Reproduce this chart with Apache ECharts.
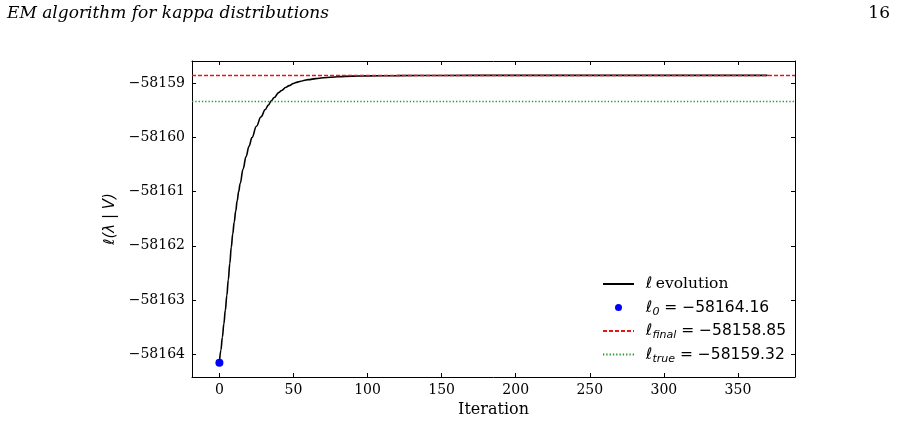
<!DOCTYPE html>
<html>
<head>
<meta charset="utf-8">
<script src="https://cdn.jsdelivr.net/npm/echarts@6/dist/echarts.min.js"></script>
<style>
  html, body { margin: 0; padding: 0; background: #fff; }
  #chart { width: 900px; height: 423px; }
</style>
</head>
<body>
<div id="chart"></div>
<script>
var iterations = [0, 1, 2, 3, 4, 5, 6, 7, 8, 9, 10, 11, 12, 13, 14, 16, 18, 20, 22, 25, 28, 31, 33, 35, 37, 40, 42, 45, 47, 50,
  52, 55, 57, 60, 65, 70, 75, 80, 90, 100, 120, 150, 200, 370];
var logLik = [-58164.16, -58163.93, -58163.69, -58163.44, -58163.19, -58162.92, -58162.63, -58162.33, -58162.03, -58161.78,
  -58161.56, -58161.36, -58161.17, -58161.00, -58160.85, -58160.58, -58160.35, -58160.16, -58160.00, -58159.79,
  -58159.62, -58159.48, -58159.40, -58159.32, -58159.26, -58159.17, -58159.13, -58159.07, -58159.04, -58159.00,
  -58158.98, -58158.96, -58158.945, -58158.93, -58158.91, -58158.895, -58158.885, -58158.875, -58158.865, -58158.86,
  -58158.855, -58158.852, -58158.85, -58158.85];
var startValue = -58164.16;
var finalValue = -58158.85;
var trueValue = -58159.32;

var xTicks = [0, 50, 100, 150, 200, 250, 300, 350];
var yTicks = [-58164, -58163, -58162, -58161, -58160, -58159];
var xRange = [-18.5, 388.5];
var yRange = [-58164.425, -58158.585];

var chart = echarts.init(document.getElementById('chart'));

var lineData = iterations.map(function (it, i) { return [it, logLik[i]]; });

function minus(v) {
  return String(v).replace('-', '\u2212');
}

var tickFont = { fontFamily: 'DejaVu Serif', fontSize: 14, color: '#000' };

function xAxis(pos, labels) {
  return {
    type: 'value', position: pos, min: xRange[0], max: xRange[1],
    splitLine: { show: false },
    axisLine: { show: true, onZero: false, lineStyle: { color: '#000', width: 1 } },
    axisTick: { show: true, inside: true, length: 4, customValues: xTicks, lineStyle: { color: '#000' } },
    axisLabel: Object.assign({ show: labels, margin: 6, customValues: xTicks }, tickFont),
    name: labels ? 'Iteration' : '',
    nameLocation: 'middle', nameGap: 25,
    nameTextStyle: { fontFamily: 'DejaVu Serif', fontSize: 16, color: '#000' }
  };
}

function yAxis(pos, labels) {
  return {
    type: 'value', position: pos, min: yRange[0], max: yRange[1],
    splitLine: { show: false },
    axisLine: { show: true, onZero: false, lineStyle: { color: '#000', width: 1 } },
    axisTick: { show: true, inside: true, length: 4, customValues: yTicks, lineStyle: { color: '#000' } },
    axisLabel: Object.assign({ show: labels, margin: 7, customValues: yTicks, formatter: minus }, tickFont),
    name: labels ? 'ℓ(λ | V)' : '',
    nameLocation: 'middle', nameGap: 67, nameRotate: 90,
    nameTextStyle: { fontFamily: 'DejaVu Sans', fontStyle: 'italic', fontSize: 15, color: '#000' }
  };
}

var legendText = {
  evo: '{m|ℓ} {s|evolution}',
  start: '{m|ℓ}{sub|0}{n| = ' + minus(startValue.toFixed(2)) + '}',
  final: '{m|ℓ}{sub|final}{n| = ' + minus(finalValue.toFixed(2)) + '}',
  'true': '{m|ℓ}{sub|true}{n| = ' + minus(trueValue.toFixed(2)) + '}'
};

var hiddenMark = { color: 'rgba(0,0,0,0)', borderWidth: 0 };
var red = '#e8141c';
var green = '#22962a';

chart.setOption({
  animation: false,
  title: [
    { text: 'EM algorithm for kappa distributions', left: 2, top: 0,
      textStyle: { fontFamily: 'DejaVu Serif', fontStyle: 'italic', fontWeight: 'normal', fontSize: 17, color: '#000' } },
    { text: '16', right: 5, top: 0,
      textStyle: { fontFamily: 'DejaVu Serif', fontWeight: 'normal', fontSize: 17, color: '#000' } }
  ],
  grid: { left: 192, right: 105, top: 61, bottom: 46, containLabel: false },
  xAxis: [xAxis('bottom', true), xAxis('top', false)],
  yAxis: [yAxis('left', true), yAxis('right', false)],
  legend: {
    left: 602, top: 274, orient: 'vertical', padding: 0,
    itemWidth: 31, itemHeight: 7, itemGap: 3.5,
    data: [
      { name: 'evo', itemStyle: hiddenMark },
      { name: 'start' },
      { name: 'final', itemStyle: hiddenMark },
      { name: 'true', itemStyle: hiddenMark }
    ],
    formatter: function (n) { return legendText[n]; },
    textStyle: {
      color: '#000', lineHeight: 20, padding: [0, 0, 0, 7],
      rich: {
        m: { fontFamily: 'DejaVu Sans', fontStyle: 'italic', fontSize: 15.5, color: '#000' },
        s: { fontFamily: 'DejaVu Serif', fontSize: 15.5, color: '#000' },
        n: { fontFamily: 'DejaVu Sans', fontSize: 15.5, color: '#000' },
        sub: { fontFamily: 'DejaVu Sans', fontStyle: 'italic', fontSize: 11, color: '#000', verticalAlign: 'bottom', padding: [8, 0, 0, 0] }
      }
    }
  },
  series: [
    {
      name: 'evo', type: 'line', data: lineData, showSymbol: false, symbol: 'none',
      smooth: 0.4, smoothMonotone: 'x', color: '#000',
      lineStyle: { color: '#000', width: 1.6 }, itemStyle: { color: '#000' }, z: 3
    },
    {
      name: 'start', type: 'scatter', data: [[iterations[0], startValue]], symbolSize: 8,
      itemStyle: { color: '#0000ff', opacity: 1 }, z: 5
    },
    {
      name: 'final', type: 'line', data: [], symbol: 'none', color: red,
      lineStyle: { color: red, width: 1.2, type: [4, 2] }, itemStyle: { color: red },
      markLine: { silent: true, symbol: 'none', label: { show: false },
        lineStyle: { color: red, width: 1.4, type: [4, 2], opacity: 1 },
        data: [{ yAxis: finalValue, lineStyle: { color: red } }] },
      z: 4
    },
    {
      name: 'true', type: 'line', data: [], symbol: 'none', color: green,
      lineStyle: { color: green, width: 1.3, type: [1.3, 2] }, itemStyle: { color: green },
      markLine: { silent: true, symbol: 'none', label: { show: false },
        lineStyle: { color: green, width: 1.3, type: [1.3, 2], opacity: 1 },
        data: [{ yAxis: trueValue, lineStyle: { color: green } }] },
      z: 4
    }
  ]
});
</script>
</body>
</html>
